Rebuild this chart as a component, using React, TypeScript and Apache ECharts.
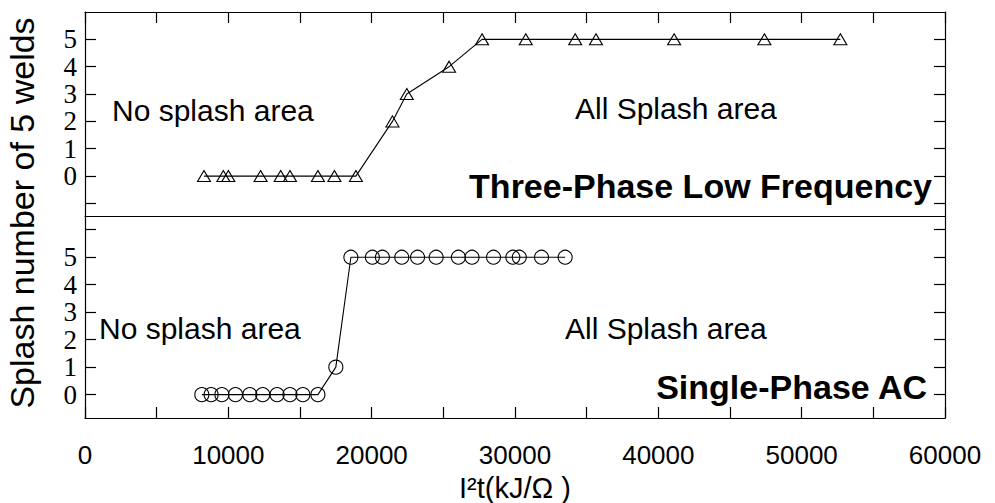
import React, { useEffect, useRef } from "react";
import * as echarts from "echarts";

// Three-Phase Low Frequency (triangles)
const threePhaseX = [8300, 9650, 10000, 12250, 13650, 14300, 16250, 17400, 18900, 21450, 22450, 25400, 27700, 30750, 34200, 35650, 41100, 47400, 52700];
const threePhaseY = [0, 0, 0, 0, 0, 0, 0, 0, 0, 2, 3, 4, 5, 5, 5, 5, 5, 5, 5];

// Single-Phase AC (circles)
const singlePhaseX = [8150, 8800, 9550, 10500, 11500, 12400, 13400, 14300, 15200, 16250, 17500, 18550, 20050, 20750, 22100, 23200, 24500, 26050, 27000, 28500, 29850, 30300, 31850, 33500];
const singlePhaseY = [0, 0, 0, 0, 0, 0, 0, 0, 0, 0, 1, 5, 5, 5, 5, 5, 5, 5, 5, 5, 5, 5, 5, 5];

const yLabelValues = [0, 1, 2, 3, 4, 5];
const topTickValues = [-1, 0, 1, 2, 3, 4, 5];
const bottomTickValues = [0, 1, 2, 3, 4, 5, 6];
const xLabelValues = [0, 10000, 20000, 30000, 40000, 50000, 60000];

const SANS = "'Liberation Sans', Arial, sans-serif";
const SERIF = "'Liberation Serif', 'Times New Roman', serif";

export default function App() {
  const ref = useRef<HTMLDivElement>(null);
  useEffect(() => {
    if (!ref.current) return;
    const chart = echarts.init(ref.current, null, { renderer: "svg" });
    const black = "#000";
    const lineAxis = { show: true, onZero: false, lineStyle: { color: black, width: 1.2 } };
    const yLeft = (gridIndex: number, min: number, max: number, ticks: number[]) => ({
      type: "value",
      gridIndex,
      position: "left",
      min,
      max,
      axisLine: lineAxis,
      splitLine: { show: false },
      axisTick: { show: true, inside: true, length: 11, customValues: ticks, lineStyle: { color: black, width: 1.2 } },
      axisLabel: {
        show: true,
        customValues: yLabelValues,
        fontFamily: SERIF,
        fontSize: 27,
        color: black,
        margin: 8,
        padding: [14, 0, 0, 0],
      },
    });
    const yRight = (gridIndex: number, min: number, max: number, ticks: number[]) => ({
      type: "value",
      gridIndex,
      position: "right",
      min,
      max,
      axisLine: lineAxis,
      splitLine: { show: false },
      axisTick: { show: true, inside: true, length: 11, customValues: ticks, lineStyle: { color: black, width: 1.2 } },
      axisLabel: { show: false },
    });
    const toPairs = (xs: number[], ys: number[]) => xs.map((x, i) => [x, ys[i]]);

    chart.setOption({
      animation: false,
      backgroundColor: "#fff",
      grid: [
        { left: 85, width: 860, top: 12, height: 204 },
        { left: 85, width: 860, top: 216, height: 202 },
      ],
      xAxis: [
        {
          type: "value", gridIndex: 0, position: "top", min: 0, max: 60000, interval: 5000,
          axisLine: lineAxis, splitLine: { show: false },
          axisTick: { show: true, inside: true, length: 11, lineStyle: { color: black, width: 1.2 } },
          axisLabel: { show: false },
        },
        {
          type: "value", gridIndex: 0, position: "bottom", min: 0, max: 60000, interval: 5000,
          axisLine: lineAxis, splitLine: { show: false },
          axisTick: { show: false }, axisLabel: { show: false },
        },
        {
          type: "value", gridIndex: 1, position: "bottom", min: 0, max: 60000, interval: 5000,
          axisLine: lineAxis, splitLine: { show: false },
          axisTick: { show: true, inside: true, length: 11, lineStyle: { color: black, width: 1.2 } },
          axisLabel: {
            show: true,
            fontFamily: SANS,
            fontSize: 26,
            lineHeight: 28,
            color: black,
            margin: 23,
            formatter: (v: number) => (xLabelValues.indexOf(v) >= 0 ? String(v) : ""),
          },
        },
      ],
      yAxis: [
        yLeft(0, -1.46, 6, topTickValues),
        yRight(0, -1.46, 6, topTickValues),
        yLeft(1, -0.85, 6.5, bottomTickValues),
        yRight(1, -0.85, 6.5, bottomTickValues),
      ],
      series: [
        {
          type: "line",
          name: "Three-Phase Low Frequency",
          xAxisIndex: 0,
          yAxisIndex: 0,
          data: toPairs(threePhaseX, threePhaseY),
          symbol: "triangle",
          symbolSize: [13, 11],
          showAllSymbol: true,
          lineStyle: { color: black, width: 1.1 },
          itemStyle: { color: "rgba(255,255,255,0)", borderColor: black, borderWidth: 1.1 },
          z: 5,
        },
        {
          type: "line",
          name: "Single-Phase AC",
          xAxisIndex: 2,
          yAxisIndex: 2,
          data: toPairs(singlePhaseX, singlePhaseY),
          symbol: "circle",
          symbolSize: 14,
          showAllSymbol: true,
          lineStyle: { color: black, width: 1.1 },
          itemStyle: { color: "rgba(255,255,255,0)", borderColor: black, borderWidth: 1.1 },
          z: 5,
        },
      ],
      graphic: [
        {
          type: "text", x: 112, y: 110,
          style: { text: "No splash area", fontFamily: SANS, fontSize: 30, fill: black, textAlign: "left", textVerticalAlign: "middle" },
        },
        {
          type: "text", x: 575, y: 108,
          style: { text: "All Splash area", fontFamily: SANS, fontSize: 30, fill: black, textAlign: "left", textVerticalAlign: "middle" },
        },
        {
          type: "text", x: 99, y: 328,
          style: { text: "No splash area", fontFamily: SANS, fontSize: 30, fill: black, textAlign: "left", textVerticalAlign: "middle" },
        },
        {
          type: "text", x: 565, y: 328,
          style: { text: "All Splash area", fontFamily: SANS, fontSize: 30, fill: black, textAlign: "left", textVerticalAlign: "middle" },
        },
        {
          type: "text", x: 932, y: 186,
          style: { text: "Three-Phase Low Frequency", fontFamily: SANS, fontWeight: "bold", fontSize: 34, fill: black, textAlign: "right", textVerticalAlign: "middle" },
        },
        {
          type: "text", x: 927, y: 387,
          style: { text: "Single-Phase AC", fontFamily: SANS, fontWeight: "bold", fontSize: 34, fill: black, textAlign: "right", textVerticalAlign: "middle" },
        },
        {
          type: "text", x: 515, y: 488,
          style: { text: "I²t(kJ/Ω )", fontFamily: SANS, fontSize: 29, fill: black, textAlign: "center", textVerticalAlign: "middle" },
        },
        {
          type: "text", x: 22, y: 213, rotation: Math.PI / 2,
          style: { text: "Splash number of 5 welds", fontFamily: SANS, fontSize: 34, fill: black, textAlign: "center", textVerticalAlign: "middle" },
        },
      ],
    });
    return () => chart.dispose();
  }, []);
  return <div ref={ref} style={{ position: "fixed", left: 0, top: 0, width: 995, height: 503 }} />;
}
